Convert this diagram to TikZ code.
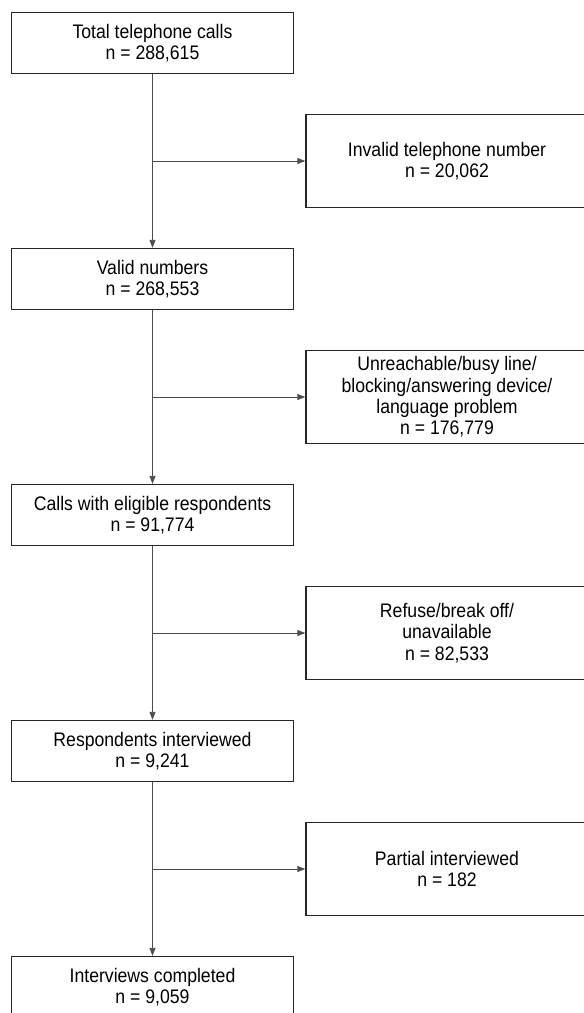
\documentclass[tikz,border=0pt]{standalone}
\usepackage{fontspec}
\setmainfont{Liberation Sans}[FakeStretch=0.9]
\usetikzlibrary{arrows.meta}
\tikzset{
	mainbox/.style={draw=black!85, line width=0.9pt, minimum width=282pt, minimum height=61.5pt, inner sep=0pt, align=center, font=\fontsize{19.6}{21.3}\selectfont},
	sidebox/.style={mainbox, line width=1.4pt, minimum height=92.5pt},
	flow/.style={draw=black!70, line width=0.9pt, -{Triangle[length=8pt,width=6pt]}}
}

\begin{document}
\begin{tikzpicture}[x=1pt, y=-1pt]
			\useasboundingbox (0,0) rectangle (584,1013);
			\node (Tot) [mainbox] at (152.5,43) {Total telephone calls\\n = 288,615};
			\node (Val) [mainbox] at (152.5,279) {Valid numbers\\n = 268,553};
			\node (Eli) [mainbox] at (152.5,515) {Calls with eligible respondents\\n = 91,774};
			\node (Res) [mainbox] at (152.5,751) {Respondents interviewed\\n = 9,241};
			\node (Com) [mainbox] at (152.5,987) {Interviews completed\\n = 9,059};
			%
			\node (Inv) [sidebox] at (447,161) {Invalid telephone number\\n = 20,062};
			\node (Unr) [sidebox] at (447,397) {Unreachable/busy line/\\blocking/answering device/\\language problem\\n = 176,779};
			\node (Ref) [sidebox] at (447,633) {Refuse/break off/\\unavailable\\n = 82,533};
			\node (Par) [sidebox] at (447,869) {Partial interviewed\\n = 182};
			\foreach \a/\b/\s in {Tot/Val/Inv,Val/Eli/Unr,Eli/Res/Ref,Res/Com/Par}{
					\draw [flow] (\a.south) -- (\b.north);
					\draw [flow] (\a.south |- \s.west) -- (\s.west);
				}
		\end{tikzpicture}
\end{document}
